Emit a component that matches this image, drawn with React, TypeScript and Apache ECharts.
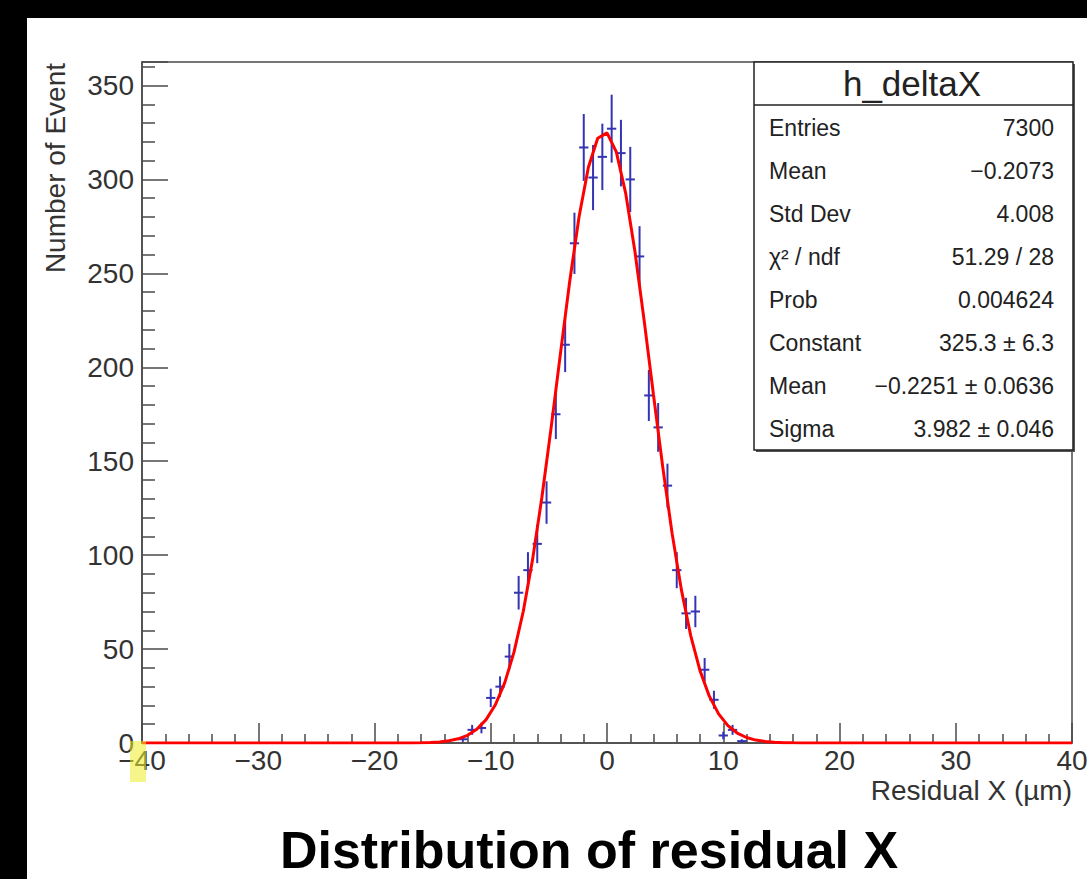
import React, { useEffect, useRef } from 'react';
import * as echarts from 'echarts';

// Histogram h_deltaX: bin centres (width 0.8 µm) and counts of the non-empty bins
const binWidth = 0.8;
const binCenters = [
  -12.4, -11.6, -10.8, -10.0, -9.2, -8.4, -7.6, -6.8, -6.0, -5.2, -4.4, -3.6, -2.8, -2.0, -1.2, -0.4,
  0.4, 1.2, 2.0, 2.8, 3.6, 4.4, 5.2, 6.0, 6.8, 7.6, 8.4, 9.2, 10.0, 10.8, 11.6,
];
const binCounts = [
  2, 7, 8, 24, 30, 46, 80, 92, 106, 128, 175, 212, 266, 317, 301, 312,
  327, 314, 300, 259, 185, 168, 137, 92, 69, 70, 39, 23, 4, 7, 1,
];

// Gaussian fit parameters
const fitConstant = 325.3;
const fitConstantErr = 6.3;
const fitMean = -0.2251;
const fitMeanErr = 0.0636;
const fitSigma = 3.982;
const fitSigmaErr = 0.046;
const fitNpx = 100;

// Axis ranges and ticks
const xMin = -40;
const xMax = 40;
const xInterval = 10;
const yMin = 0;
const yMax = 362.5;
const yInterval = 50;

// Statistics box
const statTitle = 'h_deltaX';
const statLabels = ['Entries', 'Mean', 'Std Dev', 'χ² / ndf', 'Prob', 'Constant', 'Mean', 'Sigma'];
const fmt = (s: string) => s.replace('-', '−');
const statValues = [
  '7300',
  fmt('-0.2073'),
  '4.008',
  '51.29 / 28',
  '0.004624',
  `${fitConstant.toFixed(1)} ± ${fitConstantErr.toFixed(1)}`,
  `${fmt(fitMean.toFixed(4))} ± ${fitMeanErr.toFixed(4)}`,
  `${fitSigma.toFixed(3)} ± ${fitSigmaErr.toFixed(3)}`,
];

const xTitle = 'Residual X (µm)';
const yTitle = 'Number of Event';
const chartTitle = 'Distribution of residual X';

const FONT = "'Liberation Sans', Arial, Helvetica, sans-serif";

export default function App() {
  const ref = useRef<HTMLDivElement>(null);

  useEffect(() => {
    if (!ref.current) return;
    const chart = echarts.init(ref.current, null, { renderer: 'svg', width: 1087, height: 879 });

    const errData = binCenters.map((c, i) => [c, binCounts[i], Math.sqrt(binCounts[i])]);
    const fitData: number[][] = [];
    for (let i = 0; i <= fitNpx; i++) {
      const x = xMin + ((xMax - xMin) * i) / fitNpx;
      const z = (x - fitMean) / fitSigma;
      fitData.push([x, fitConstant * Math.exp(-0.5 * z * z)]);
    }

    const axisColor = '#4a4a4a';
    const labelColor = '#333';
    const minus = (v: number) => (v < 0 ? '−' + Math.abs(v) : String(v));

    const boxX = 754;
    const boxY = 62;
    const boxW = 319;
    const boxH = 388;
    const rowY0 = 128;
    const rowStep = 43;

    const statTexts: any[] = [];
    statLabels.forEach((lab, i) => {
      statTexts.push({
        type: 'text',
        x: 769,
        y: rowY0 + i * rowStep,
        style: { text: lab, font: `23px ${FONT}`, fill: '#222', align: 'left', verticalAlign: 'middle' },
      });
      statTexts.push({
        type: 'text',
        x: 1054,
        y: rowY0 + i * rowStep,
        style: { text: statValues[i], font: `23px ${FONT}`, fill: '#222', align: 'right', verticalAlign: 'middle' },
      });
    });

    const option: any = {
      animation: false,
      backgroundColor: '#ffffff',
      grid: {
        left: 142,
        top: 62,
        width: 930,
        height: 681,
        containLabel: false,
        outerBoundsMode: 'none',
        show: true,
        borderColor: axisColor,
        borderWidth: 1.5,
        backgroundColor: 'transparent',
      },
      xAxis: {
        type: 'value',
        min: xMin,
        max: xMax,
        interval: xInterval,
        axisLine: { show: true, onZero: false, lineStyle: { color: axisColor, width: 1.5 } },
        axisTick: { show: true, inside: true, length: 20, lineStyle: { color: axisColor, width: 1.5 } },
        minorTick: { show: true, splitNumber: 5, length: 9, lineStyle: { color: axisColor, width: 1.5 } },
        splitLine: { show: false },
        axisLabel: { fontSize: 28, fontFamily: FONT, color: labelColor, margin: 3, formatter: minus },
      },
      yAxis: {
        type: 'value',
        min: yMin,
        max: yMax,
        interval: yInterval,
        axisLine: { show: true, onZero: false, lineStyle: { color: axisColor, width: 1.5 } },
        axisTick: { show: true, inside: true, length: 26, lineStyle: { color: axisColor, width: 1.5 } },
        minorTick: { show: true, splitNumber: 5, length: 13, lineStyle: { color: axisColor, width: 1.5 } },
        splitLine: { show: false },
        axisLabel: {
          fontSize: 28,
          fontFamily: FONT,
          color: labelColor,
          margin: 8,
          showMaxLabel: false,
          formatter: minus,
        },
      },
      series: [
        {
          type: 'custom',
          name: 'h_deltaX',
          data: errData,
          encode: { x: 0, y: 1 },
          clip: true,
          z: 3,
          renderItem: (_params: any, api: any) => {
            const x = api.value(0);
            const y = api.value(1);
            const e = api.value(2);
            const l = api.coord([x - binWidth / 2, y]);
            const r = api.coord([x + binWidth / 2, y]);
            const lo = api.coord([x, Math.max(0, y - e)]);
            const hi = api.coord([x, y + e]);
            const style = { stroke: '#3434b4', lineWidth: 2 };
            return {
              type: 'group',
              children: [
                { type: 'line', shape: { x1: l[0], y1: l[1], x2: r[0], y2: r[1] }, style },
                { type: 'line', shape: { x1: lo[0], y1: lo[1], x2: hi[0], y2: hi[1] }, style },
              ],
            };
          },
        },
        {
          type: 'line',
          name: 'gaus',
          data: fitData,
          showSymbol: false,
          symbol: 'none',
          smooth: false,
          clip: true,
          z: 5,
          lineStyle: { color: '#ff0000', width: 3 },
        },
      ],
      graphic: [
        // dark frame around the page
        { type: 'rect', shape: { x: 0, y: 0, width: 1087, height: 18 }, style: { fill: '#000' } },
        { type: 'rect', shape: { x: 0, y: 0, width: 27, height: 879 }, style: { fill: '#000' } },
        // statistics box
        { type: 'rect', z: 20, shape: { x: boxX + 2, y: boxY + 2, width: boxW, height: boxH }, style: { fill: '#555' } },
        {
          type: 'rect',
          z: 21,
          shape: { x: boxX, y: boxY, width: boxW, height: boxH },
          style: { fill: '#fff', stroke: '#222', lineWidth: 1.5 },
        },
        {
          type: 'line',
          z: 22,
          shape: { x1: boxX, y1: 105, x2: boxX + boxW, y2: 105 },
          style: { stroke: '#222', lineWidth: 1.5 },
        },
        {
          type: 'text',
          z: 22,
          x: 912,
          y: 83,
          style: { text: statTitle, font: `35px ${FONT}`, fill: '#222', align: 'center', verticalAlign: 'middle' },
        },
        ...statTexts.map((t) => ({ ...t, z: 22 })),
        // axis titles
        {
          type: 'text',
          x: 1072,
          y: 790,
          style: { text: xTitle, font: `28px ${FONT}`, fill: labelColor, align: 'right', verticalAlign: 'middle' },
        },
        {
          type: 'text',
          x: 55,
          y: 63,
          rotation: Math.PI / 2,
          style: { text: yTitle, font: `28px ${FONT}`, fill: labelColor, align: 'right', verticalAlign: 'middle' },
        },
        // caption
        {
          type: 'text',
          x: 589,
          y: 850,
          style: { text: chartTitle, font: `bold 52px ${FONT}`, fill: '#000', align: 'center', verticalAlign: 'middle' },
        },
        // highlight marker over the first x label
        {
          type: 'rect',
          z: 50,
          shape: { x: 130, y: 741, width: 16, height: 41 },
          style: { fill: 'rgba(236, 236, 40, 0.55)' },
        },
      ],
    };

    chart.setOption(option);
    return () => chart.dispose();
  }, []);

  return (
    <div
      ref={ref}
      style={{ position: 'fixed', left: 0, top: 0, width: 1087, height: 879, background: '#fff' }}
    />
  );
}
